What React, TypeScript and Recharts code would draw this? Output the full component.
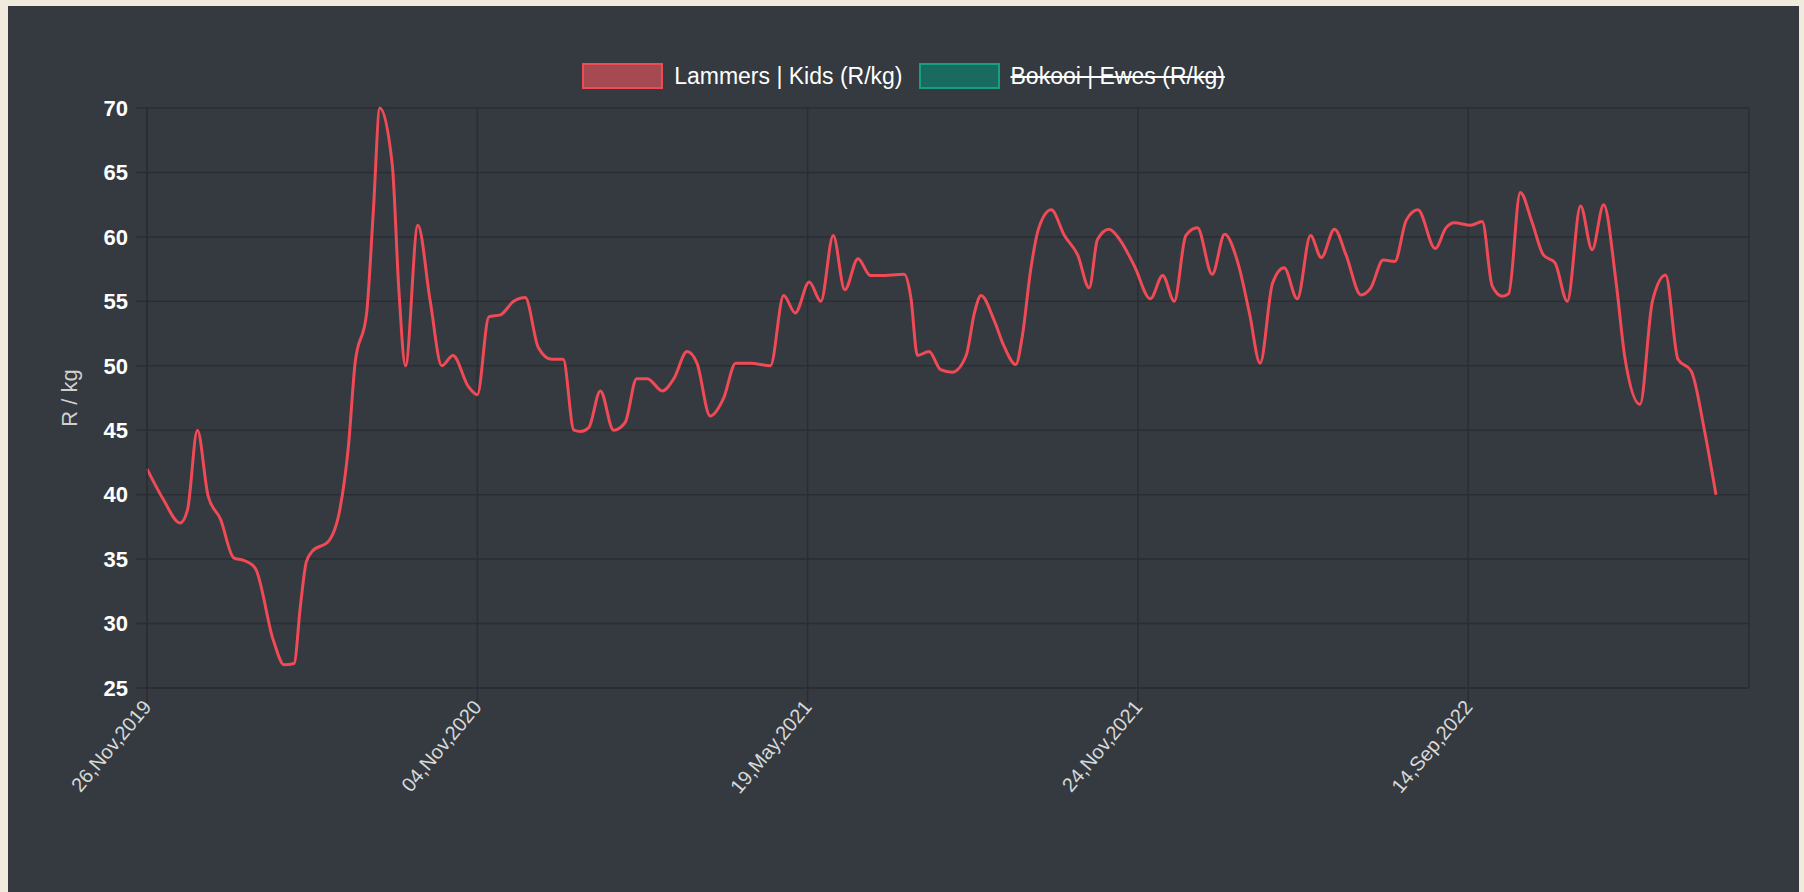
import { LineChart, Line, XAxis, YAxis, CartesianGrid, Legend } from "recharts";

// position along the weekly category axis (0 = 26,Nov,2019)
const weekIdx = [
  0, 2, 4, 4.9, 6.1, 7.4, 8.9, 10.5, 11.7, 13.1, 15.3, 16.6, 17.8, 18.6, 19.3, 20, 22, 23.4, 24.4, 25.2,
  26.6, 27.4, 28.2, 29.7, 30.5, 31.3, 32.8, 34.3, 35.7, 37.05, 38.9, 40, 41.4, 42.8, 44.4, 45.8, 47.4, 49,
  50.4, 51.7, 52.5, 53.5, 54.9, 56.5, 57.9, 59.3, 60.6, 62.4, 63.8, 65.4, 66.6, 68.2, 69.8, 71.3, 73.1,
  75.5, 77.1, 78.5, 80.2, 81.6, 83.1, 84.5, 86.1, 87.6, 88.8, 91.7, 92.5, 93.3, 94.7, 96.1, 97.5, 99.2,
  100.2, 101, 102.6, 103.8, 105.2, 106, 107, 108, 109.5, 111.1, 112.7, 114.1, 115.1, 116.5, 117.9, 119.6,
  121.5, 123, 124.4, 125.8, 127.2, 129, 130.5, 132.1, 133.5, 134.8, 136.3, 137.7, 139.3, 140.9, 142.2,
  143.8, 145.2, 147, 148.2, 149.7, 151.1, 152.5, 153.9, 156, 157.3, 158.3, 160.3, 161.7, 162.9, 164.1,
  164.9, 166.3, 167.7, 169.1, 170.5, 172, 173.6, 175, 176.4, 177.9, 179, 180.8, 182.3, 183.9, 185.4, 187,
  188.6, 190,
];

// Lammers | Kids, R/kg
const kidsPrice = [
  42, 39.6, 37.8, 38.8, 45, 39.9, 38.1, 35.1, 34.9, 34.3, 28.7, 26.8, 26.9, 31.5, 34.8, 35.6, 36.4, 39,
  43.8, 50.2, 54.1, 61.9, 70, 65.6, 55.9, 50, 60.9, 55, 50, 50.8, 48.4, 47.75, 53.8, 53.95, 55, 55.3, 51.4,
  50.5, 50.5, 45, 44.9, 45.2, 48.05, 45, 45.6, 49, 49, 48.05, 49, 51.1, 50.2, 46.1, 47.45, 50.2, 50.2, 50,
  55.45, 54.1, 56.5, 55, 60.1, 55.9, 58.3, 57, 57, 57.1, 55.3, 50.8, 51.1, 49.7, 49.5, 50.8, 54.1, 55.45,
  53.5, 51.5, 50.1, 52.3, 57.4, 60.7, 62.1, 60.1, 58.6, 56.05, 59.8, 60.6, 59.7, 57.7, 55.2, 57, 55, 60.1,
  60.7, 57.1, 60.2, 58, 54.1, 50.2, 56.4, 57.6, 55.2, 60.1, 58.4, 60.6, 58.6, 55.5, 56.05, 58.2, 58.1,
  61.3, 62.1, 59.1, 60.7, 61.1, 60.9, 61.2, 56.2, 55.4, 55.6, 63.45, 61.2, 58.6, 58, 55, 62.4, 59, 62.5,
  56.5, 50.5, 47, 55, 57.05, 50.5, 49.6, 45, 40,
];

const tickIdx = [0, 40, 80, 120, 160];
const tickDates = ["26,Nov,2019", "04,Nov,2020", "19,May,2021", "24,Nov,2021", "14,Sep,2022"];
const yTicks = [25, 30, 35, 40, 45, 50, 55, 60, 65, 70];

const seriesNames = ["Lammers | Kids (R/kg)", "Bokooi | Ewes (R/kg)"];
const seriesHidden = [false, true];

const FONT = '"Liberation Sans", Arial, Helvetica, sans-serif';
const GRID = "#2a2e33";
const BOX = [
  { fill: "#a64a52", border: "#ef4b55" },
  { fill: "#1a6b5f", border: "#16a083" },
];

const W = 1791;
const H = 886;

const data = weekIdx.map((x, i) => ({ idx: x, price: kidsPrice[i] }));

function XTick({ x, y, payload }: any) {
  const i = tickIdx.indexOf(payload.value);
  return (
    <g transform={`translate(${x},${y})`}>
      <text
        textAnchor="end"
        transform="rotate(-50)"
        dy={7}
        fill="#d8d8d8"
        fontSize={20}
        fontFamily={FONT}
      >
        {i >= 0 ? tickDates[i] : ""}
      </text>
    </g>
  );
}

function ChartLegend() {
  return (
    <div
      style={{
        width: W,
        height: 47,
        display: "flex",
        justifyContent: "center",
        alignItems: "flex-start",
        fontFamily: FONT,
        fontSize: 23,
        color: "#ffffff",
      }}
    >
      {seriesNames.map((name, i) => (
        <div
          key={name}
          style={{ display: "flex", alignItems: "center", height: 30, marginRight: i === 0 ? 16 : 0 }}
        >
          <span
            style={{
              display: "inline-block",
              width: 77,
              height: 22,
              background: BOX[i].fill,
              border: `2px solid ${BOX[i].border}`,
              marginRight: 11,
            }}
          />
          <span style={{ textDecoration: seriesHidden[i] ? "line-through" : "none", whiteSpace: "nowrap" }}>
            {name}
          </span>
        </div>
      ))}
    </div>
  );
}

export default function App() {
  return (
    <>
      <style>{`body{margin:0;background:#f0ebdc;overflow:hidden}`}</style>
      <div
        style={{
          position: "absolute",
          left: 8,
          top: 6,
          width: W,
          height: H,
          background: "#343a40",
        }}
      >
        <LineChart
          width={W}
          height={H}
          data={data}
          margin={{ top: 55, right: 50, left: 0, bottom: 54 }}
        >
          <CartesianGrid stroke={GRID} strokeWidth={1.5} />
          <Legend
            verticalAlign="top"
            align="center"
            wrapperStyle={{ left: 0, width: W }}
            content={() => <ChartLegend />}
          />
          <XAxis
            dataKey="idx"
            type="number"
            domain={[0, 194]}
            ticks={tickIdx}
            interval={0}
            height={150}
            tickSize={15}
            tickMargin={0}
            stroke={GRID}
            axisLine={{ stroke: GRID, strokeWidth: 1.5 }}
            tickLine={{ stroke: GRID, strokeWidth: 1.5 }}
            tick={<XTick />}
          />
          <YAxis
            domain={[25, 70]}
            ticks={yTicks}
            interval={0}
            width={139}
            tickSize={11}
            tickMargin={8}
            axisLine={{ stroke: GRID, strokeWidth: 1.5 }}
            tickLine={{ stroke: GRID, strokeWidth: 1.5 }}
            tick={{ fill: "#ffffff", fontSize: 22, fontWeight: "bold", fontFamily: FONT }}
            label={{
              value: "R / kg",
              angle: -90,
              position: "center",
              dx: -8,
              fill: "#d0d0d0",
              fontSize: 22,
              fontFamily: FONT,
            }}
          />
          <Line
            type="monotone"
            dataKey="price"
            stroke="#ef4a55"
            strokeWidth={3}
            dot={false}
            isAnimationActive={false}
            legendType="none"
          />
        </LineChart>
      </div>
    </>
  );
}
